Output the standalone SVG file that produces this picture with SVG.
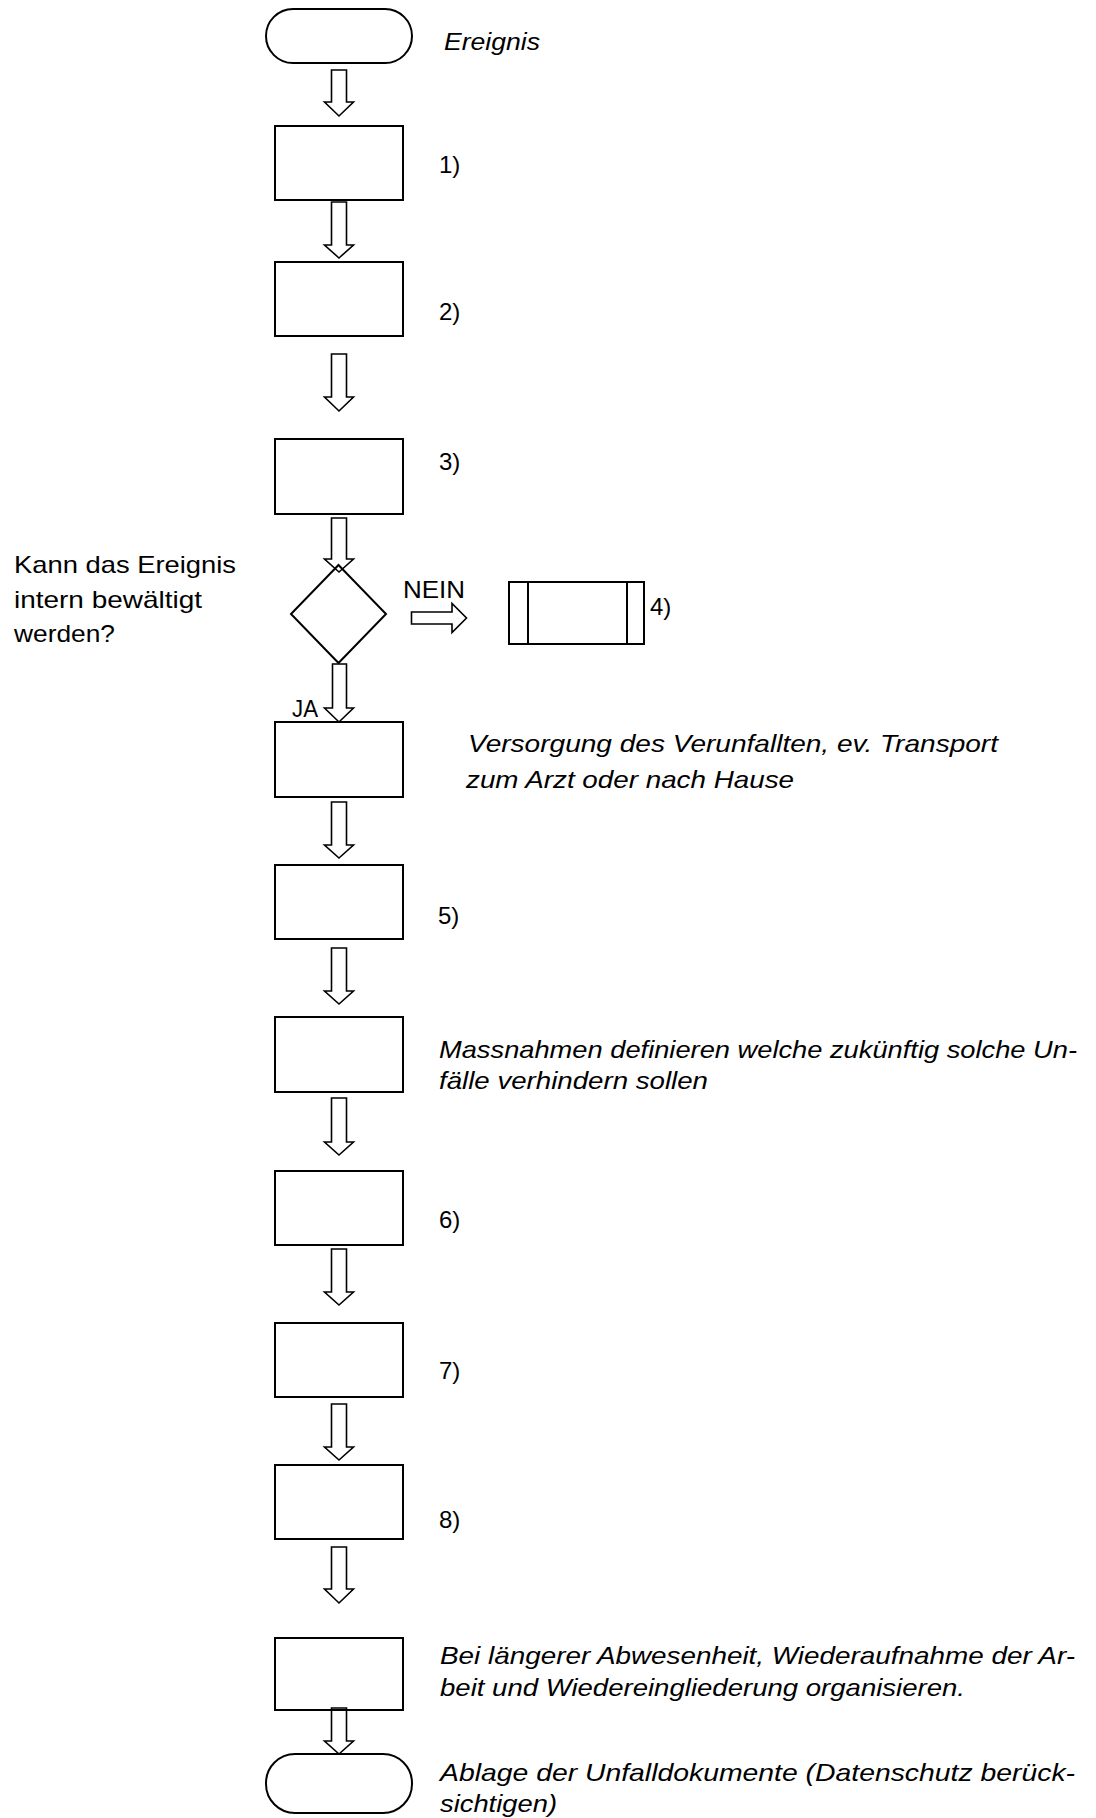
<svg xmlns="http://www.w3.org/2000/svg" width="1096" height="1818" viewBox="0 0 1096 1818">
<style>
.n{fill:none;stroke:#000;stroke-width:2}
.c{fill:none;stroke:#000;stroke-width:1.6;stroke-linejoin:miter}
text{font-family:"Liberation Sans",Arial,sans-serif;font-size:24px;fill:#000}
.i{font-style:italic}
</style>
<rect width="1096" height="1818" fill="#fff"/>
<g id="connectors">
<polygon class="c" points="331.5,70 346.5,70 346.5,102 353.5,102 339,116 324.5,102 331.5,102"/>
<polygon class="c" points="331.5,202 346.5,202 346.5,245 353.5,245 339,258 324.5,245 331.5,245"/>
<polygon class="c" points="331.5,354 346.5,354 346.5,397 353.5,397 339,411 324.5,397 331.5,397"/>
<polygon class="c" points="331.5,518 346.5,518 346.5,559 353.5,559 339,572 324.5,559 331.5,559"/>
<polygon class="c" points="332.5,664 346.5,664 346.5,708 353.5,708 339,722 324.5,708 332.5,708"/>
<polygon class="c" points="331.5,802 346.5,802 346.5,845 353.5,845 339,858 324.5,845 331.5,845"/>
<polygon class="c" points="331.5,948 346.5,948 346.5,991 353.5,991 339,1004 324.5,991 331.5,991"/>
<polygon class="c" points="331.5,1098 346.5,1098 346.5,1142 353.5,1142 339,1155 324.5,1142 331.5,1142"/>
<polygon class="c" points="331.5,1249 346.5,1249 346.5,1292 353.5,1292 339,1305 324.5,1292 331.5,1292"/>
<polygon class="c" points="331.5,1404 346.5,1404 346.5,1447 353.5,1447 339,1460 324.5,1447 331.5,1447"/>
<polygon class="c" points="331.5,1547 346.5,1547 346.5,1589 353.5,1589 339,1603 324.5,1589 331.5,1589"/>
<polygon class="c" points="331.5,1708 346.5,1708 346.5,1741 353.5,1741 339,1754 324.5,1741 331.5,1741"/>
<polygon class="c" points="411.5,612 452,612 452,603.5 466.5,618 452,632.5 452,624 411.5,624"/>
<text x="403" y="598.3" textLength="62" lengthAdjust="spacingAndGlyphs">NEIN</text>
<text x="292" y="717" textLength="26" lengthAdjust="spacingAndGlyphs">JA</text>
</g>
<g id="start">
<rect class="n" x="266" y="9" width="146" height="54" rx="27" ry="27"/>
<text class="i" x="444" y="49.5" textLength="96" lengthAdjust="spacingAndGlyphs">Ereignis</text>
</g>
<g id="step1">
<rect class="n" x="275" y="126" width="128" height="74"/>
<text x="439" y="173">1)</text>
</g>
<g id="step2">
<rect class="n" x="275" y="262" width="128" height="74"/>
<text x="439" y="320">2)</text>
</g>
<g id="step3">
<rect class="n" x="275" y="439" width="128" height="75"/>
<text x="439" y="470">3)</text>
</g>
<g id="decision">
<polygon class="n" points="338.5,565 386,614 338.5,663 291,614"/>
<text x="14" y="573" textLength="222" lengthAdjust="spacingAndGlyphs">Kann das Ereignis</text>
<text x="14" y="608" textLength="188" lengthAdjust="spacingAndGlyphs">intern bewältigt</text>
<text x="14" y="642" textLength="101" lengthAdjust="spacingAndGlyphs">werden?</text>
</g>
<g id="step4">
<rect class="n" x="509" y="582" width="135" height="62"/>
<line class="n" x1="528" y1="582" x2="528" y2="644"/>
<line class="n" x1="627" y1="582" x2="627" y2="644"/>
<text x="650" y="615">4)</text>
</g>
<g id="care">
<rect class="n" x="275" y="722" width="128" height="75"/>
<text class="i" x="468" y="751.7" textLength="530" lengthAdjust="spacingAndGlyphs">Versorgung des Verunfallten, ev. Transport</text>
<text class="i" x="466" y="788" textLength="328" lengthAdjust="spacingAndGlyphs">zum Arzt oder nach Hause</text>
</g>
<g id="step5">
<rect class="n" x="275" y="865" width="128" height="74"/>
<text x="438" y="924">5)</text>
</g>
<g id="measures">
<rect class="n" x="275" y="1017" width="128" height="75"/>
<text class="i" x="439" y="1058" textLength="638" lengthAdjust="spacingAndGlyphs">Massnahmen definieren welche zukünftig solche Un-</text>
<text class="i" x="439" y="1089" textLength="269" lengthAdjust="spacingAndGlyphs">fälle verhindern sollen</text>
</g>
<g id="step6">
<rect class="n" x="275" y="1171" width="128" height="74"/>
<text x="439" y="1228">6)</text>
</g>
<g id="step7">
<rect class="n" x="275" y="1323" width="128" height="74"/>
<text x="439" y="1379">7)</text>
</g>
<g id="step8">
<rect class="n" x="275" y="1465" width="128" height="74"/>
<text x="439" y="1528">8)</text>
</g>
<g id="reintegration">
<rect class="n" x="275" y="1638" width="128" height="72"/>
<text class="i" x="440" y="1664" textLength="635" lengthAdjust="spacingAndGlyphs">Bei längerer Abwesenheit, Wiederaufnahme der Ar-</text>
<text class="i" x="440" y="1696" textLength="525" lengthAdjust="spacingAndGlyphs">beit und Wiedereingliederung organisieren.</text>
</g>
<g id="end">
<rect class="n" x="266" y="1754" width="146" height="59" rx="29" ry="29"/>
<text class="i" x="440" y="1781" textLength="635" lengthAdjust="spacingAndGlyphs">Ablage der Unfalldokumente (Datenschutz berück-</text>
<text class="i" x="440" y="1812" textLength="117" lengthAdjust="spacingAndGlyphs">sichtigen)</text>
</g>
</svg>
